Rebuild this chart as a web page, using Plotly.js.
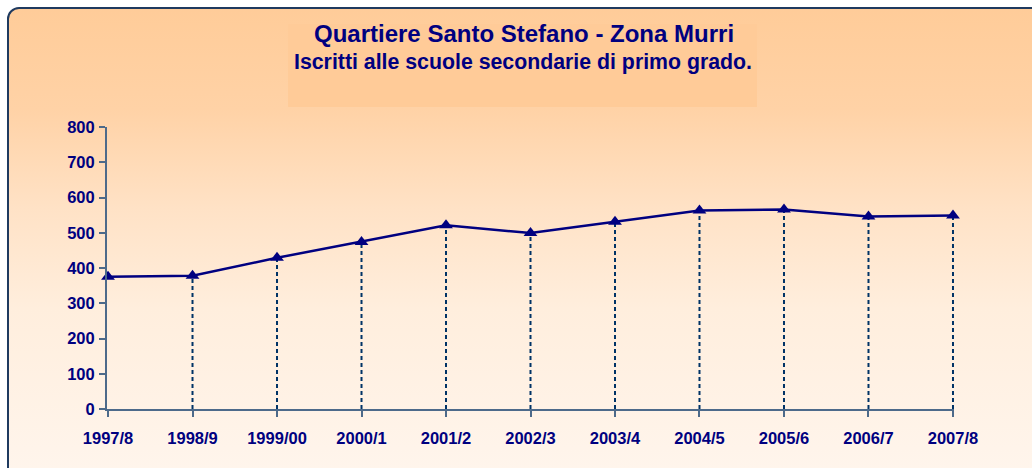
<!DOCTYPE html>
<html>
<head>
<meta charset="utf-8">
<script src="https://cdn.plot.ly/plotly-3.0.1.min.js"></script>
<style>
  html, body { margin: 0; padding: 0; background: #ffffff; }
  #wrap { position: relative; width: 1032px; height: 468px; overflow: hidden; background: #ffffff; }
  #bg {
    position: absolute; left: 7px; top: 7px; width: 1060px; height: 500px;
    border: 2px solid #1f3a5f; border-radius: 12px 0 0 0;
    background: linear-gradient(to bottom, #FFCC99 0px, #FFD2A6 100px, #FFE2C6 200px, #FFEEDD 300px, #FFF5EC 461px);
  }
  #chart { position: absolute; left: 0; top: 0; width: 1032px; height: 468px; }
</style>
</head>
<body>
<div id="wrap">
  <div id="bg"></div>
  <div id="chart"></div>
</div>
<script>
const categories = ["1997/8","1998/9","1999/00","2000/1","2001/2","2002/3","2003/4","2004/5","2005/6","2006/7","2007/8"];
const enrolled = [375, 378, 429, 474, 521, 499, 531, 563, 566, 546, 549];
const yTicks = [0, 100, 200, 300, 400, 500, 600, 700, 800];
const titleText = "Quartiere Santo Stefano - Zona Murri";
const subtitleText = "Iscritti alle scuole secondarie di primo grado.";

const navy = "#000080";
const idx = categories.map((c, i) => i);

// drop lines built from the data arrays (the first one lies on the y axis)
const dropX = [], dropY = [];
idx.slice(1).forEach(i => { dropX.push(i, i, null); dropY.push(0, enrolled[i], null); });

const traces = [
  {
    x: dropX, y: dropY, type: "scatter", mode: "lines",
    line: { color: "#003366", width: 2, dash: "4px,3px" },
    hoverinfo: "skip", showlegend: false, connectgaps: false
  },
  {
    x: idx, y: enrolled, type: "scatter", mode: "lines+markers",
    line: { color: navy, width: 2.5 },
    marker: { symbol: "triangle-up", size: 12, color: navy },
    cliponaxis: false,
    showlegend: false
  }
];

const font = "'Liberation Sans', Arial, sans-serif";
const axisCol = "#4d6a8a";

// plot area: x from 107 to 954 (range -0.012..10.012), y from 127 to 409
const PL = 107, PR = 954, PT = 127, PB = 409;
const px = v => (v - PL) / (PR - PL);
const py = v => (PB - v) / (PB - PT);

const layout = {
  width: 1032, height: 468,
  margin: { l: PL, r: 1032 - PR, t: PT, b: 468 - PB },
  paper_bgcolor: "rgba(0,0,0,0)",
  plot_bgcolor: "rgba(0,0,0,0)",
  showlegend: false,
  annotations: [
    {
      text: "<b>" + titleText + "</b>",
      xref: "paper", yref: "paper", x: px(523.5), y: py(33),
      xanchor: "center", yanchor: "middle", showarrow: false,
      font: { family: font, size: 24, color: navy }
    },
    {
      text: "<b>" + subtitleText + "</b>",
      xref: "paper", yref: "paper", x: px(523), y: py(62),
      xanchor: "center", yanchor: "middle", showarrow: false,
      font: { family: font, size: 21.3, color: navy }
    }
  ],
  shapes: [{
    type: "rect", xref: "paper", yref: "paper", layer: "below",
    x0: px(288), x1: px(757), y0: py(107), y1: py(24),
    fillcolor: "#FFCB98", line: { width: 0 }
  }],
  xaxis: {
    range: [-0.012, 10.012], tickmode: "array", tickvals: idx, ticktext: categories,
    showgrid: false, zeroline: false,
    showline: true, linecolor: axisCol, linewidth: 2,
    ticks: "outside", ticklen: 6, tickwidth: 2, tickcolor: axisCol,
    ticklabelstandoff: 7,
    tickfont: { family: font, size: 16.5, color: navy, weight: "bold" },
    fixedrange: true
  },
  yaxis: {
    range: [0, 800], tickmode: "array", tickvals: yTicks,
    showgrid: false, zeroline: false,
    showline: true, linecolor: axisCol, linewidth: 2,
    ticks: "outside", ticklen: 6, tickwidth: 2, tickcolor: axisCol,
    ticklabelstandoff: 1,
    tickfont: { family: font, size: 16.5, color: navy, weight: "bold" },
    fixedrange: true
  }
};

Plotly.newPlot("chart", traces, layout, { displayModeBar: false, staticPlot: true });
</script>
</body>
</html>
